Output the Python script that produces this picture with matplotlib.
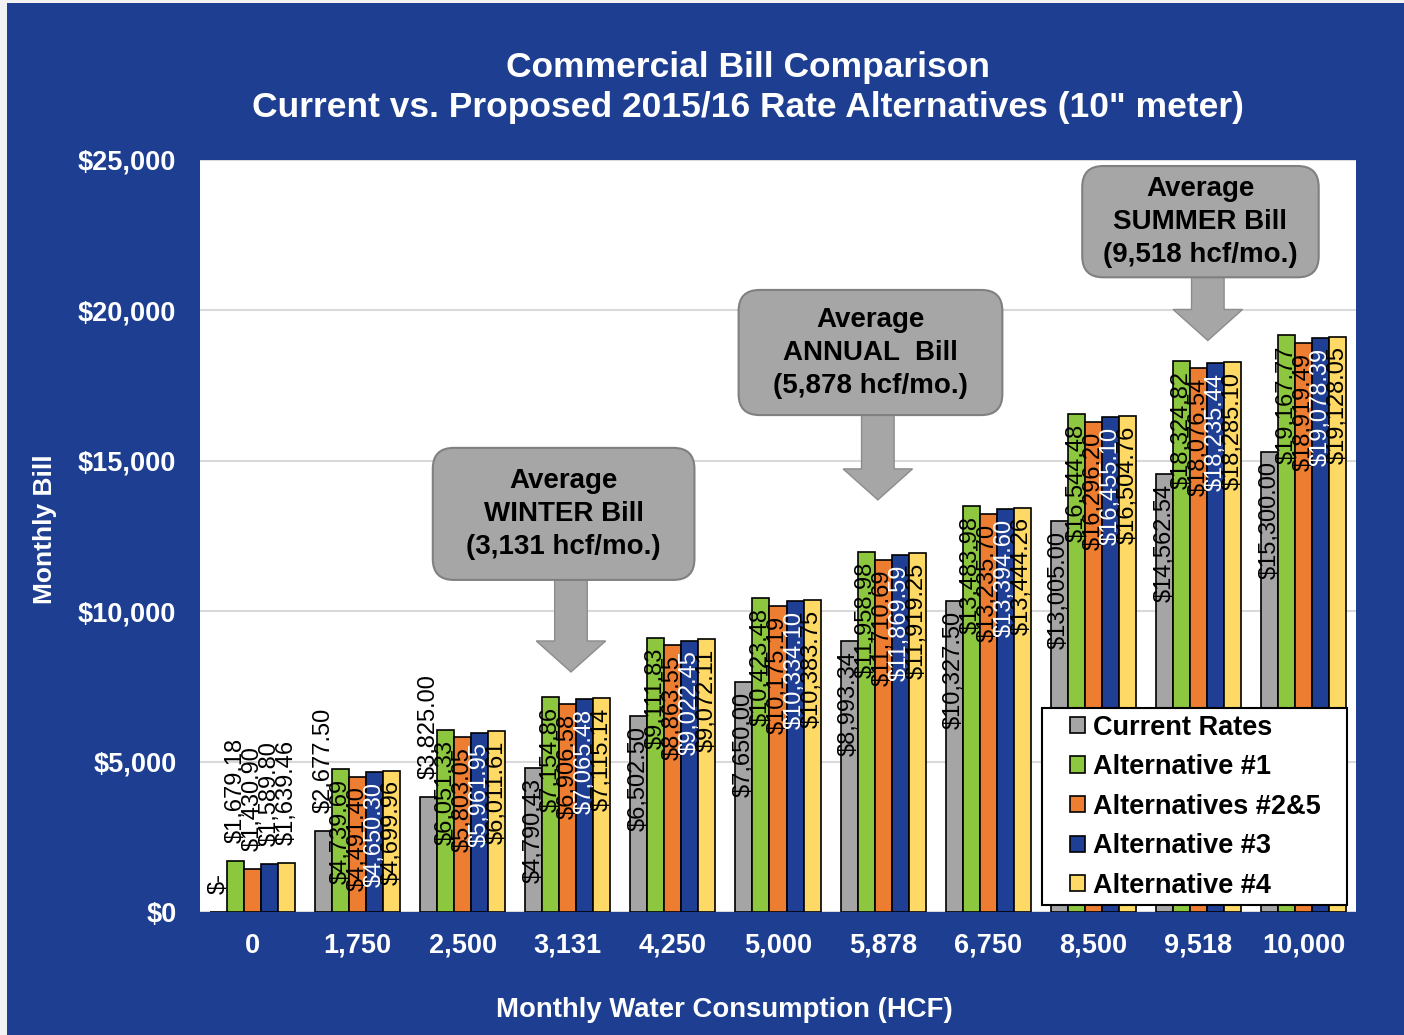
import numpy as np
import matplotlib.pyplot as plt
from matplotlib.patches import FancyBboxPatch, FancyArrow, Rectangle

plt.rcParams['font.family'] = ['Liberation Sans', 'DejaVu Sans']

# Usage levels (HCF per month)
usage = ["0", "1,750", "2,500", "3,131", "4,250", "5,000",
         "5,878", "6,750", "8,500", "9,518", "10,000"]

current = [0.00, 2677.50, 3825.00, 4790.43, 6502.50, 7650.00,
           8993.34, 10327.50, 13005.00, 14562.54, 15300.00]
alt1 = [1679.18, 4739.69, 6051.33, 7154.86, 9111.83, 10423.48,
        11958.98, 13483.98, 16544.48, 18324.82, 19167.77]
alt2_5 = [1430.90, 4491.40, 5803.05, 6906.58, 8863.55, 10175.19,
          11710.69, 13235.70, 16296.20, 18076.54, 18919.49]
alt3 = [1589.80, 4650.30, 5961.95, 7065.48, 9022.45, 10334.10,
        11869.59, 13394.60, 16455.10, 18235.44, 19078.39]
alt4 = [1639.46, 4699.96, 6011.61, 7115.14, 9072.11, 10383.75,
        11919.25, 13444.26, 16504.76, 18285.10, 19128.05]

series = [current, alt1, alt2_5, alt3, alt4]
names = ["Current Rates", "Alternative #1", "Alternatives #2&5",
         "Alternative #3", "Alternative #4"]
colors = ["#A5A5A5", "#8DC63F", "#ED7D31", "#1F3F94", "#FFD966"]
label_colors = ["black", "black", "black", "white", "black"]

# Callouts: text, category index, box top/bottom, arrow tip (dollars)
callout_text = ["Average\nWINTER Bill\n(3,131 hcf/mo.)",
                "Average\nANNUAL  Bill\n(5,878 hcf/mo.)",
                "Average\nSUMMER Bill\n(9,518 hcf/mo.)"]
callout_x = [2.96, 5.88, 9.02]
callout_w = [2.49, 2.51, 2.25]
callout_top = [15430, 20680, 24800]
callout_bot = [11040, 16520, 21100]
callout_tip = [7980, 13700, 19000]

BLUE_BG = "#1E3F91"

fig = plt.figure(figsize=(14.04, 10.35), dpi=100, facecolor=BLUE_BG)
# light frame strip along the left and top edges
fig.patches.append(Rectangle((0, 0), 7 / 1404, 1, transform=fig.transFigure,
                             facecolor="#F2F2F2", edgecolor="none", zorder=-1))
fig.patches.append(Rectangle((0, 1 - 3 / 1035), 1, 3 / 1035,
                             transform=fig.transFigure,
                             facecolor="#F2F2F2", edgecolor="none", zorder=-1))

ax = fig.add_axes([200 / 1404, 1 - 912 / 1035, 1156 / 1404, 752 / 1035])
ax.set_zorder(1)
ax.set_facecolor("white")
for s in ax.spines.values():
    s.set_visible(False)

n = len(usage)
x = np.arange(n)
bw = 0.162
ax.set_xlim(-0.5, n - 0.5)
ax.set_ylim(0, 25000)

bars_all = []
for i, (vals, c) in enumerate(zip(series, colors)):
    bars = ax.bar(x + (i - 2) * bw, vals, bw, color=c, edgecolor="black",
                  linewidth=1.2, label=names[i], zorder=2)
    bars_all.append(bars)

ax.set_yticks(np.arange(0, 25001, 5000))
ax.set_yticklabels(["$0"] + ["${:,.0f}".format(v) for v in range(5000, 25001, 5000)])
ax.set_xticks(x)
ax.set_xticklabels(usage)
ax.tick_params(axis="both", length=0, labelcolor="white", labelsize=19.5)
ax.tick_params(axis="y", pad=17)
ax.tick_params(axis="x", pad=15)
for t in ax.get_xticklabels() + ax.get_yticklabels():
    t.set_fontweight("bold")
ax.yaxis.grid(True, color="#D9D9D9", linewidth=1.5, zorder=0)
ax.set_axisbelow(True)

fig.text(748 / 1404, 1 - 68 / 1035, "Commercial Bill Comparison",
         ha="center", va="center", color="white", fontsize=25.5, fontweight="bold")
fig.text(748 / 1404, 1 - 108 / 1035,
         'Current vs. Proposed 2015/16 Rate Alternatives (10" meter)',
         ha="center", va="center", color="white", fontsize=25.5, fontweight="bold")
fig.text(45 / 1404, 1 - 529 / 1035, "Monthly Bill", rotation=90,
         ha="center", va="center", color="white", fontsize=19, fontweight="bold")
fig.text(724 / 1404, 1 - 1010 / 1035, "Monthly Water Consumption (HCF)",
         ha="center", va="center", color="white", fontsize=19.8, fontweight="bold")

# Data labels: inside the bar end when they fit, above the bar otherwise
fig.canvas.draw()
renderer = fig.canvas.get_renderer()
px_per_y = ax.get_window_extent().height / 25000
for bars, vals, lc in zip(bars_all, series, label_colors):
    for b, v in zip(bars, vals):
        txt = "$-" if v == 0 else "${:,.2f}".format(v)
        cx = b.get_x() + b.get_width() / 2
        t = ax.annotate(txt, (cx, v), xytext=(0, -7), textcoords="offset points",
                        rotation=90, ha="center", va="top", fontsize=17,
                        color=lc, zorder=3)
        h = t.get_window_extent(renderer).height
        if h + 22 > v * px_per_y:
            t.set_va("bottom")
            t.set_position((0, 13))
            t.set_color("black")

# Callout boxes with block arrows
ax_px = ax.get_window_extent()
px_per_x = ax_px.width / n
aspect = px_per_x / px_per_y
for txt, cx, w, top, bot, tip in zip(callout_text, callout_x, callout_w,
                                     callout_top, callout_bot, callout_tip):
    box = FancyBboxPatch((cx - w / 2, bot), w, top - bot,
                         boxstyle="round,pad=0,rounding_size=0.2",
                         mutation_aspect=aspect, facecolor="#A6A6A6",
                         edgecolor="#808080", linewidth=1.5, zorder=5)
    ax.add_patch(box)
    head_len = 31 / px_per_y
    arr = FancyArrow(cx + 0.07, bot, 0, tip - bot, width=0.31,
                     head_width=0.66, head_length=head_len,
                     length_includes_head=True, facecolor="#A6A6A6",
                     edgecolor="#8C8C8C", linewidth=1, zorder=4)
    ax.add_patch(arr)
    ax.text(cx, (top + bot) / 2, txt, ha="center", va="center",
            fontsize=20, fontweight="bold", color="black",
            linespacing=1.35, zorder=6)

# Legend in a white framed box over the last bars
ax.add_patch(Rectangle((0.728, 0.0093), 0.264, 0.2617, transform=ax.transAxes,
                       facecolor="white", edgecolor="black", linewidth=1.5,
                       zorder=9))
leg = ax.legend(loc="center", bbox_to_anchor=(0.861, 0.140),
                prop={"weight": "bold", "size": 19.5}, frameon=False,
                handlelength=0.55, handleheight=0.55, handletextpad=0.3,
                labelspacing=0.5, borderpad=0, borderaxespad=0)
leg.set_zorder(10)

fig.savefig("out.png", dpi=100, facecolor=fig.get_facecolor())
